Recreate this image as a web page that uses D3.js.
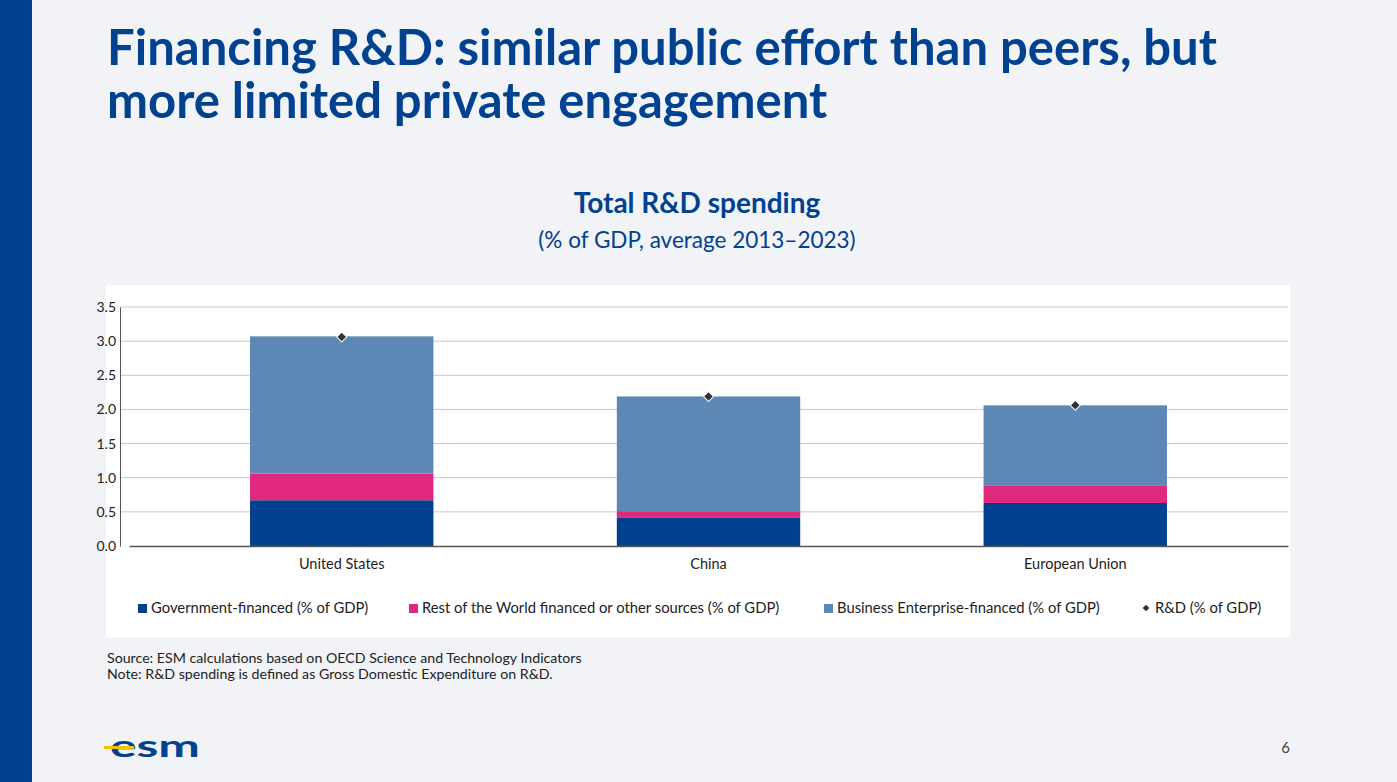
<!DOCTYPE html>
<html><head><meta charset="utf-8">
<script src="https://cdn.jsdelivr.net/npm/d3@7"></script>
<style>body{margin:0;background:#f2f3f7;font-family:Lato,"Open Sans",sans-serif;}</style>
</head><body><svg id="c" width="1397" height="782"></svg>
<script>
var categories = ["United States", "China", "European Union"];
var government = [0.67, 0.42, 0.63];
var restOfWorld = [0.39, 0.09, 0.25];
var business = [2.01, 1.68, 1.18];
var rdTotal = [3.06, 2.19, 2.06];
var yTicks = [0, 0.5, 1, 1.5, 2, 2.5, 3, 3.5];

var svg = d3.select("#c");
svg.append("rect").attr("width", 1397).attr("height", 782).attr("fill", "#f2f3f7");
svg.append("rect").attr("width", 32).attr("height", 782).attr("fill", "#004190");

svg.append("text").attr("x", 107).attr("y", 65).attr("fill", "#004190")
  .attr("font-size", 49).attr("font-weight", "bold").text("Financing R&D: similar public effort than peers, but");
svg.append("text").attr("x", 107).attr("y", 118).attr("fill", "#004190")
  .attr("font-size", 49).attr("font-weight", "bold").text("more limited private engagement");
svg.append("text").attr("x", 697).attr("y", 213).attr("text-anchor", "middle").attr("fill", "#004190")
  .attr("font-size", 28).attr("font-weight", "bold").text("Total R&D spending");
svg.append("text").attr("x", 697).attr("y", 248).attr("text-anchor", "middle").attr("fill", "#004190")
  .attr("font-size", 22.5).text("(% of GDP, average 2013\u20132023)");

svg.append("rect").attr("x", 106).attr("y", 285).attr("width", 1184).attr("height", 352).attr("fill", "#fff");

var x = d3.scaleBand().domain(categories).range([129, 1288]).paddingInner(0.5).paddingOuter(0.33);
var y = d3.scaleLinear().domain([0, 3.5]).range([546, 307]);

var g = svg.append("g");
g.selectAll("line.grid").data(yTicks.slice(1)).enter().append("line")
  .attr("x1", 120).attr("x2", 1288).attr("y1", d => y(d)).attr("y2", d => y(d))
  .attr("stroke", "#c8c8c8").attr("stroke-width", 1);

var series = [
  {vals: government, color: "#004190"},
  {vals: restOfWorld, color: "#e0287c"},
  {vals: business, color: "#5d88b5"}
];
categories.forEach(function(c, i) {
  var base = 0;
  series.forEach(function(s) {
    var v = s.vals[i];
    g.append("rect").attr("x", x(c)).attr("width", x.bandwidth())
      .attr("y", y(base + v)).attr("height", y(base) - y(base + v)).attr("fill", s.color);
    base += v;
  });
});
g.selectAll("path.dia").data(categories).enter().append("path")
  .attr("d", d3.symbol().type(d3.symbolSquare).size(50))
  .attr("transform", (d, i) => "translate(" + (x(d) + x.bandwidth() / 2) + "," + y(rdTotal[i]) + ") rotate(45)")
  .attr("fill", "#333").attr("stroke", "#fff").attr("stroke-width", 1);

var ya = svg.append("g").attr("transform", "translate(120,0)")
  .call(d3.axisLeft(y).tickValues(yTicks).tickFormat(d3.format(".1f")).tickSize(0).tickPadding(4));
ya.select(".domain").attr("stroke", "#555");
ya.selectAll("text").attr("font-size", 14).attr("fill", "#222").attr("font-family", "Lato,sans-serif");

var xa = svg.append("g").attr("transform", "translate(0,546)")
  .call(d3.axisBottom(x).tickSize(0).tickPadding(13));
xa.select(".domain").attr("stroke", "#555").attr("stroke-width", 1.5);
xa.selectAll("text").attr("font-size", 14.5).attr("fill", "#222").attr("font-family", "Lato,sans-serif");

var legend = [
  {t: "Government-financed (% of GDP)", c: "#004190", x: 138},
  {t: "Rest of the World financed or other sources (% of GDP)", c: "#e0287c", x: 409},
  {t: "Business Enterprise-financed (% of GDP)", c: "#5d88b5", x: 824},
  {t: "R&D (% of GDP)", c: "#333", x: 1142, dia: true}
];
legend.forEach(function(l) {
  if (l.dia) {
    svg.append("path").attr("d", d3.symbol().type(d3.symbolSquare).size(22))
      .attr("transform", "translate(" + (l.x + 4) + ",608) rotate(45)").attr("fill", l.c);
  } else {
    svg.append("rect").attr("x", l.x).attr("y", 604).attr("width", 9).attr("height", 9).attr("fill", l.c);
  }
  svg.append("text").attr("x", l.x + 13).attr("y", 613).attr("font-size", 14.8).attr("fill", "#222").text(l.t);
});

svg.append("text").attr("x", 107).attr("y", 663).attr("font-size", 14.2).attr("fill", "#222")
  .text("Source: ESM calculations based on OECD Science and Technology Indicators");
svg.append("text").attr("x", 107).attr("y", 679).attr("font-size", 14.2).attr("fill", "#222")
  .text("Note: R&D spending is defined as Gross Domestic Expenditure on R&D.");

svg.append("text").attr("x", 1290).attr("y", 753).attr("font-size", 15).attr("fill", "#444").attr("text-anchor", "end").text("6");

// logo
var lg = svg.append("g");
lg.append("text").attr("x", 110).attr("y", 757).attr("font-size", 30).attr("font-weight", "bold")
  .attr("fill", "#004190").attr("textLength", 90).attr("lengthAdjust", "spacingAndGlyphs").text("esm");
lg.append("rect").attr("x", 104).attr("y", 746).attr("width", 30).attr("height", 3).attr("fill", "#f5c400");
</script></body></html>
